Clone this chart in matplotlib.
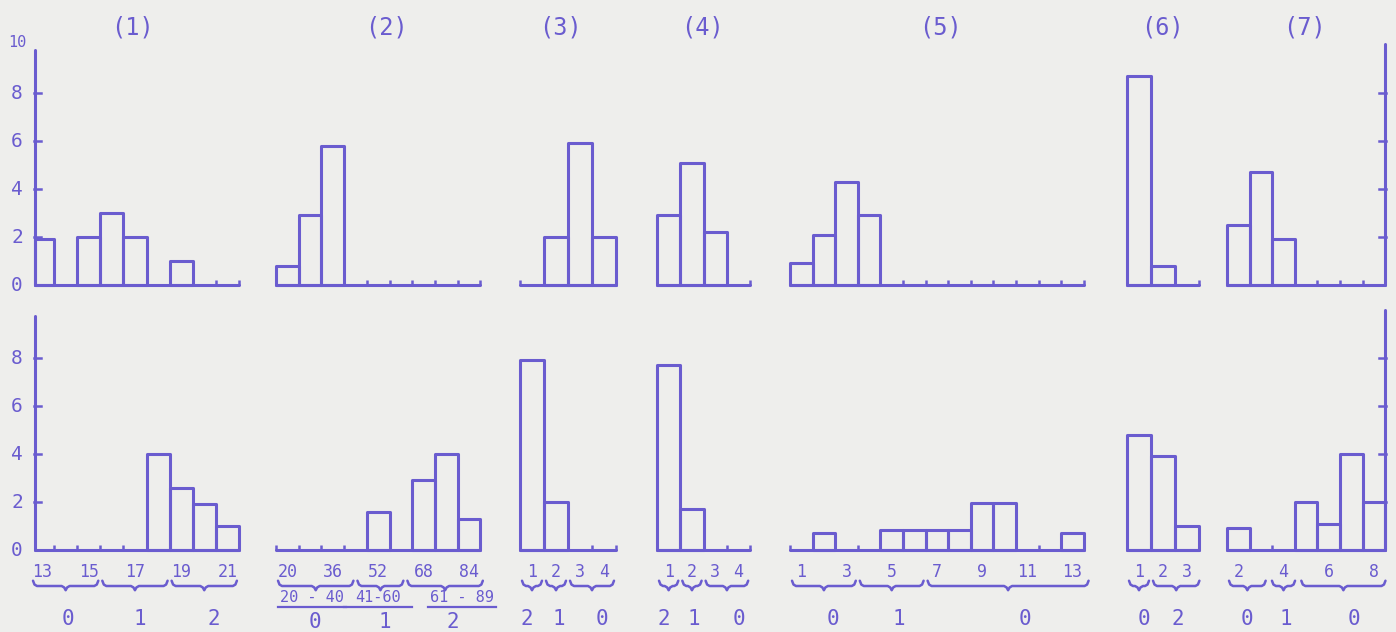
import numpy as np
import matplotlib.pyplot as plt

INK = '#6a5ccf'
PAPER = '#eeeeec'
plt.rcParams['font.family'] = ['DejaVu Sans Mono', 'DejaVu Sans']

panels = ['(1)', '(2)', '(3)', '(4)', '(5)', '(6)', '(7)']

# counts per bin: upper row / lower row
top_1 = [1.9, 0, 2.0, 3.0, 2.0, 0, 1.0, 0, 0]
bot_1 = [0, 0, 0, 0, 0, 4.0, 2.6, 1.9, 1.0]
top_2 = [0.8, 2.9, 5.8, 0, 0, 0, 0, 0, 0]
bot_2 = [0, 0, 0, 0, 1.6, 0, 2.9, 4.0, 1.3]
top_3 = [0, 2.0, 5.9, 2.0]
bot_3 = [7.9, 2.0, 0, 0]
top_4 = [2.9, 5.1, 2.2, 0]
bot_4 = [7.7, 1.7, 0, 0]
top_5 = [0.9, 2.1, 4.3, 2.9, 0, 0, 0, 0, 0, 0, 0, 0, 0]
bot_5 = [0, 0.7, 0, 0, 0.85, 0.85, 0.85, 0.85, 1.95, 1.95, 0, 0, 0.7]
top_6 = [8.7, 0.8, 0]
bot_6 = [4.8, 3.9, 1.0]
top_7 = [2.5, 4.7, 1.9, 0, 0, 0, 0]
bot_7 = [0.9, 0, 0, 2.0, 1.1, 4.0, 2.0]

tops = [top_1, top_2, top_3, top_4, top_5, top_6, top_7]
bots = [bot_1, bot_2, bot_3, bot_4, bot_5, bot_6, bot_7]

# x labels under the lower row: (text, bin index)
xlab_1 = [('13', 0), ('15', 2), ('17', 4), ('19', 6), ('21', 8)]
xlab_2 = [('20', 0), ('36', 2), ('52', 4), ('68', 6), ('84', 8)]
xlab_3 = [('1', 0), ('2', 1), ('3', 2), ('4', 3)]
xlab_4 = [('1', 0), ('2', 1), ('3', 2), ('4', 3)]
xlab_5 = [('1', 0), ('3', 2), ('5', 4), ('7', 6), ('9', 8), ('11', 10), ('13', 12)]
xlab_6 = [('1', 0), ('2', 1), ('3', 2)]
xlab_7 = [('2', 0), ('4', 2), ('6', 4), ('8', 6)]
xlabs = [xlab_1, xlab_2, xlab_3, xlab_4, xlab_5, xlab_6, xlab_7]

# grouping of bins into scores: (from bin, to bin), score, score position in bins
groups_1 = [((0, 3), '0', 1.6), ((3, 6), '1', 4.7), ((6, 9), '2', 7.9)]
groups_2 = [((0, 3.5), '0', 1.7), ((3.5, 5.7), '1', 4.8), ((5.7, 9.2), '2', 7.8)]
groups_3 = [((0, 1), '2', 0.3), ((1, 2), '1', 1.6), ((2, 4), '0', 3.4)]
groups_4 = [((0, 1), '2', 0.3), ((1, 2), '1', 1.6), ((2, 4), '0', 3.5)]
groups_5 = [((0, 3), '0', 1.9), ((3, 6), '1', 4.8), ((6, 13.3), '0', 10.4)]
groups_6 = [((0, 1), '0', 0.7), ((1, 3.1), '2', 2.1)]
groups_7 = [((0, 1.8), '0', 0.9), ((1.9, 3.1), '1', 2.6), ((3.2, 7.1), '0', 5.6)]
groups = [groups_1, groups_2, groups_3, groups_4, groups_5, groups_6, groups_7]
ranges_2 = [('20 - 40', 1.6), ('41-60', 4.5), ('61 - 89', 8.2)]

# layout (pixels)
starts = [31, 276, 520, 657, 790, 1127, 1227]
widths = [23.1, 22.7, 24, 23.3, 22.6, 24, 22.6]
title_x = [133, 387, 560, 703, 940, 1163, 1305]
AX_L, AX_R = 35, 1385
Z_TOP, Z_BOT = 285, 550
PX = 24.0  # pixels per count

fig = plt.figure(figsize=(13.96, 6.32), dpi=100, facecolor=PAPER)
ax_t = fig.add_axes([0, 0, 1, 1])
ax_b = fig.add_axes([0, 0, 1, 1])
for ax, z in ((ax_t, Z_TOP), (ax_b, Z_BOT)):
    ax.set_xlim(0, 1396)
    ax.set_ylim((z - 632) / PX, z / PX)
    ax.axis('off')
    ax.patch.set_alpha(0)

lw = 2.2
kw = dict(color=INK, lw=lw, solid_capstyle='round', solid_joinstyle='round')


def yv(py, z):
    return (z - py) / PX


def brace(ax, x0, x1, y, h=0.22):
    xm = (x0 + x1) / 2
    xs = [x0, x0 + 1.5, x0 + 4, xm - 4, xm - 1.5, xm, xm + 1.5, xm + 4, x1 - 4, x1 - 1.5, x1]
    ys = [y + h, y + 0.06, y, y, y - 0.06, y - h * 0.8, y - 0.06, y, y, y + 0.06, y + h]
    ax.plot(xs, ys, color=INK, lw=1.8, solid_capstyle='round')


# vertical axes
for ax, z, top_px in ((ax_t, Z_TOP, 50), (ax_b, Z_BOT, 316)):
    top_v = yv(top_px, z)
    ax.plot([AX_L, AX_L], [0, top_v], **kw)
    ax.plot([AX_R, AX_R], [0, top_v + 0.25], **kw)
    for t in (2, 4, 6, 8):
        ax.plot([AX_L - 1, AX_L + 6], [t, t], color=INK, lw=1.8)
        ax.plot([AX_R - 6, AX_R + 1], [t, t], color=INK, lw=1.8)
    labs = [0, 2, 4, 6, 8]
    for t in labs:
        ax.text(17, t, str(t), ha='center', va='center', fontsize=14, color=INK)
ax_t.text(17, yv(42, Z_TOP), '10', ha='center', va='center', fontsize=11, color=INK)

for g in range(7):
    w = widths[g]
    for ax, vals in ((ax_t, tops[g]), (ax_b, bots[g])):
        vals = np.asarray(vals, dtype=float)
        edges = starts[g] + w * np.arange(len(vals) + 1)
        edges = np.clip(edges, AX_L, AX_R)
        ax.plot([edges[0], edges[-1]], [0, 0], **kw)
        ax.vlines(edges[1:], 0, 0.22, color=INK, lw=1.8)
        if g == 0:
            pass
        else:
            ax.vlines(edges[:1], 0, 0.22, color=INK, lw=1.8)
        m = vals > 0
        ax.bar(edges[:-1][m], vals[m], width=np.diff(edges)[m], align='edge',
               fill=False, edgecolor=INK, lw=lw, joinstyle='round')

    ax_t.text(title_x[g], yv(28, Z_TOP), panels[g], ha='center', va='center',
              fontsize=17, color=INK)

    for txt, b in xlabs[g]:
        ax_b.text(starts[g] + w * (b + 0.5), yv(572, Z_BOT), txt, ha='center',
                  va='center', fontsize=12, color=INK)

    for (b0, b1), score, sb in groups[g]:
        brace(ax_b, starts[g] + w * b0 + 2, starts[g] + w * b1 - 2, yv(586, Z_BOT))
        sy = 622 if g == 1 else 619
        ax_b.text(starts[g] + w * sb, yv(sy, Z_BOT), score, ha='center',
                  va='center', fontsize=15, color=INK)

# score ranges for (2)
for txt, b in ranges_2:
    x = starts[1] + widths[1] * b
    ax_b.text(x, yv(598, Z_BOT), txt, ha='center', va='center', fontsize=11, color=INK)
    ax_b.plot([x - 34, x + 34], [yv(607, Z_BOT)] * 2, color=INK, lw=1.6)

fig.savefig('out.png', dpi=100, facecolor=PAPER)
